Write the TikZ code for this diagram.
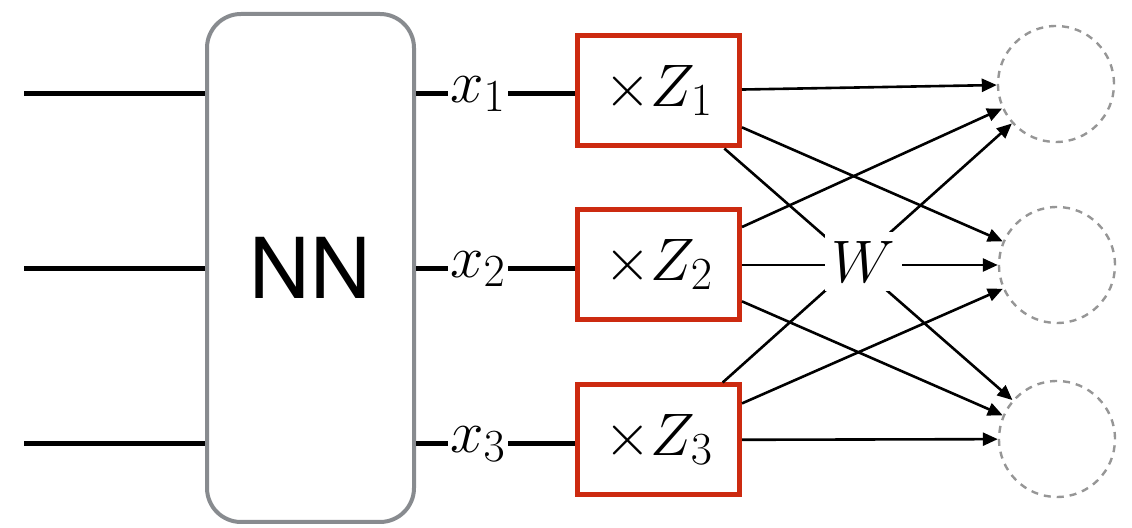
\RequirePackage{fix-cm}
\documentclass[tikz,border=0pt]{standalone}
\usepackage{fontspec}
\newfontfamily\helv{TeX Gyre Heros}
\DeclareMathSizes{30}{30}{23}{17}
\usetikzlibrary{arrows.meta,positioning}
\definecolor{vermelho}{RGB}{204,42,16}
\definecolor{cinza}{RGB}{136,139,143}
\definecolor{cinzaclaro}{RGB}{150,150,150}
\begin{document}
\begin{tikzpicture}[x=0.5pt,y=-0.5pt, %Escala em pixels
	rede/.style={draw=cinza, line width=2pt, rounded corners=17pt, minimum width=103.5pt, minimum height=254pt},
	caixa/.style={draw=vermelho, line width=2.5pt, minimum width=81pt, minimum height=55pt, inner sep=0pt, font=\fontsize{30}{36}\selectfont},
	saida/.style={draw=cinzaclaro, circle, dash pattern=on 3.5pt off 3pt, line width=1.2pt, minimum size=58pt, inner sep=0pt},
	fio/.style={line width=2.5pt},
	seta/.style={-{Triangle[length=7.5pt,width=6.5pt]}, line width=1.3pt},
	rotulo/.style={inner sep=1pt, font=\fontsize{30}{36}\selectfont}]
	\useasboundingbox (0,0) rectangle (1132,528);
		%Rede
	\node[rede] (nn) at (310.5,268) {\helv\fontsize{42}{50}\selectfont NN};
		%Entradas
	\coordinate (e1) at (24,94);
	\coordinate (e2) at (24,269);
	\coordinate (e3) at (24,444);
	\draw[fio] (e1) -- (e1 -| nn.west);
	\draw[fio] (e2) -- (e2 -| nn.west);
	\draw[fio] (e3) -- (e3 -| nn.west);
		%Saidas da rede
	\node[rotulo] (x1) at (478,94) {$x_1$};
	\node[rotulo] (x2) at (478,269) {$x_2$};
	\node[rotulo] (x3) at (478,444) {$x_3$};
		%Multiplicadores
	\node[caixa] (z1) at (658.5,91) {$\times Z_1$};
	\node[caixa] (z2) at (658.5,265) {$\times Z_2$};
	\node[caixa] (z3) at (658.5,440) {$\times Z_3$};
	\draw[fio] (x1 -| nn.east) -- (x1) -- (x1 -| z1.west);
	\draw[fio] (x2 -| nn.east) -- (x2) -- (x2 -| z2.west);
	\draw[fio] (x3 -| nn.east) -- (x3) -- (x3 -| z3.west);
		%Neuronios de saida
	\node[saida] (c1) at (1056,84) {};
	\node[saida] (c2) at (1057,265) {};
	\node[saida] (c3) at (1057,439) {};
		%Pesos
	\draw[seta] (z1) -- (c1);
	\draw[seta] (z1) -- (c2);
	\draw[seta] (z1) -- (c3);
	\draw[seta] (z2) -- (c1);
	\draw[seta] (z2) -- (c2);
	\draw[seta] (z2) -- (c3);
	\draw[seta] (z3) -- (c1);
	\draw[seta] (z3) -- (c2);
	\draw[seta] (z3) -- (c3);
	\node[fill=white, inner sep=0pt, minimum width=38.5pt, minimum height=29.5pt, font=\fontsize{30}{36}\selectfont] (w) at (863,262) {$W$};
\end{tikzpicture}
\end{document}
